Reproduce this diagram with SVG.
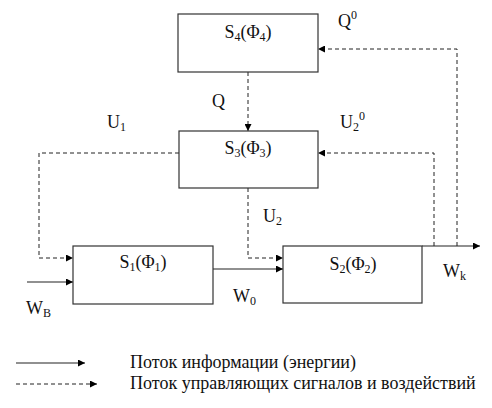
<svg xmlns="http://www.w3.org/2000/svg" width="492" height="408" viewBox="0 0 492 408">
<defs>
<marker id="ah" viewBox="0 0 10 10" refX="10" refY="5" markerWidth="9" markerHeight="7" markerUnits="userSpaceOnUse" orient="auto">
<path d="M0,0 L10,5 L0,10 z" fill="#000"/>
</marker>
</defs>
<rect width="492" height="408" fill="#fff"/>
<g id="connectors" fill="none" stroke="#222">
<path stroke-width="1" stroke-dasharray="4,3" d="M248,72 V131" marker-end="url(#ah)"/>
<path stroke-width="1" stroke-dasharray="4,3" d="M457,246 V49 H318" marker-end="url(#ah)"/>
<path stroke-width="1" stroke-dasharray="4,3" d="M434,246 V153 H318" marker-end="url(#ah)"/>
<path stroke-width="1" stroke-dasharray="4,3" d="M179,153 H39 V258 H73" marker-end="url(#ah)"/>
<path stroke-width="1" stroke-dasharray="4,3" d="M248,188 V258 H283" marker-end="url(#ah)"/>
<path stroke-width="1.2" d="M27,282 H73" marker-end="url(#ah)"/>
<path stroke-width="1.2" d="M213,269 H283" marker-end="url(#ah)"/>
<path stroke-width="1.2" d="M422,246 H480" marker-end="url(#ah)"/>
</g>
<g id="S4">
<rect fill="#fff" stroke="#333" stroke-width="1.2" x="178" y="14" width="140" height="58"/>
<text font-family="Liberation Serif" font-size="18" fill="#111" x="248" y="38" text-anchor="middle">S<tspan font-size="12" dy="3">4</tspan><tspan dy="-3">(Φ</tspan><tspan font-size="12" dy="3">4</tspan><tspan dy="-3">)</tspan></text>
</g>
<g id="S3">
<rect fill="#fff" stroke="#333" stroke-width="1.2" x="179" y="131" width="139" height="57"/>
<text font-family="Liberation Serif" font-size="18" fill="#111" x="248" y="154" text-anchor="middle">S<tspan font-size="12" dy="3">3</tspan><tspan dy="-3">(Φ</tspan><tspan font-size="12" dy="3">3</tspan><tspan dy="-3">)</tspan></text>
</g>
<g id="S1">
<rect fill="#fff" stroke="#333" stroke-width="1.2" x="73" y="246" width="140" height="58"/>
<text font-family="Liberation Serif" font-size="18" fill="#111" x="143" y="268" text-anchor="middle">S<tspan font-size="12" dy="3">1</tspan><tspan dy="-3">(Φ</tspan><tspan font-size="12" dy="3">1</tspan><tspan dy="-3">)</tspan></text>
</g>
<g id="S2">
<rect fill="#fff" stroke="#333" stroke-width="1.2" x="283" y="246" width="139" height="57"/>
<text font-family="Liberation Serif" font-size="18" fill="#111" x="353" y="270" text-anchor="middle">S<tspan font-size="12" dy="3">2</tspan><tspan dy="-3">(Φ</tspan><tspan font-size="12" dy="3">2</tspan><tspan dy="-3">)</tspan></text>
</g>
<g id="labels">
<text font-family="Liberation Serif" font-size="18" fill="#111" x="338" y="27">Q<tspan font-size="12" dy="-8">0</tspan></text>
<text font-family="Liberation Serif" font-size="18" fill="#111" x="212" y="107">Q</text>
<text font-family="Liberation Serif" font-size="18" fill="#111" x="107" y="128">U<tspan font-size="12" dy="3">1</tspan></text>
<text font-family="Liberation Serif" font-size="18" fill="#111" x="340" y="128">U<tspan font-size="12" dy="3">2</tspan><tspan font-size="12" dy="-11">0</tspan></text>
<text font-family="Liberation Serif" font-size="18" fill="#111" x="263" y="222">U<tspan font-size="12" dy="3">2</tspan></text>
<text font-family="Liberation Serif" font-size="18" fill="#111" x="443" y="277">W<tspan font-size="12" dy="3">k</tspan></text>
<text font-family="Liberation Serif" font-size="18" fill="#111" x="233" y="302">W<tspan font-size="12" dy="3">0</tspan></text>
<text font-family="Liberation Serif" font-size="18" fill="#111" x="26" y="314">W<tspan font-size="12" dy="3">B</tspan></text>
</g>
<g id="legend">
<path fill="none" stroke="#222" stroke-width="1.2" d="M16,363 H85" marker-end="url(#ah)"/>
<path fill="none" stroke="#222" stroke-width="1" stroke-dasharray="4,3" d="M16,384 H97" marker-end="url(#ah)"/>
<text font-family="Liberation Serif" font-size="18" fill="#111" x="130" y="368">Поток информации (энергии)</text>
<text font-family="Liberation Serif" font-size="18" fill="#111" x="130" y="389">Поток управляющих сигналов и воздействий</text>
</g>
</svg>
